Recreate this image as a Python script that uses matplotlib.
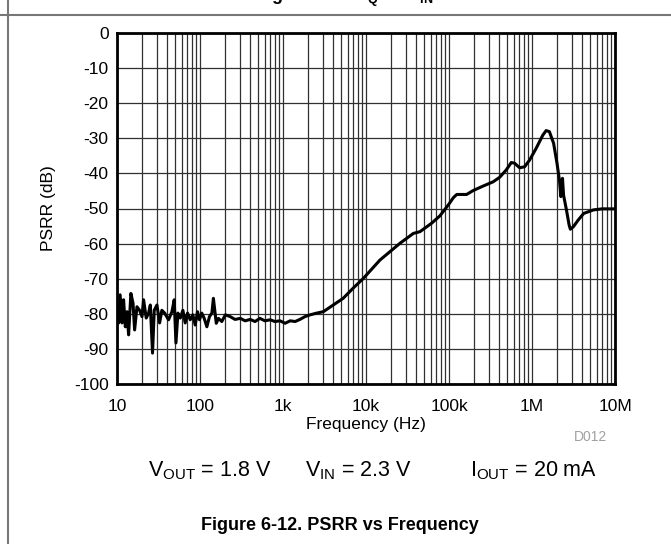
import numpy as np
import matplotlib
matplotlib.use("Agg")
import matplotlib.pyplot as plt
from matplotlib.lines import Line2D

plt.rcParams['font.family'] = ['Liberation Sans', 'DejaVu Sans']
plt.rcParams['mathtext.fontset'] = 'custom'
plt.rcParams['mathtext.rm'] = 'Liberation Sans'

# PSRR curve (Hz, dB)
freq = [10, 10.5, 10.9, 11.5, 12.0, 12.6, 13.2, 13.8, 14.7, 15.6, 16.3, 17.4, 18.7, 20.0,
        20.9, 22.5, 24.0, 25.2, 26.8, 28.1, 30.3, 32.6, 34.7, 37.5, 41.8, 45.9, 48.9, 51.3,
        54.2, 57.9, 62.2, 66.3, 70.8, 76.2, 82.0, 87.5, 93.3, 98.6, 105, 112, 121, 130, 139,
        145, 157, 167, 183, 202, 231, 264, 306, 350, 402, 460, 527, 605, 700, 800, 920,
        1060, 1220, 1400, 1600, 1840, 2120, 2550, 3060, 5300, 7000, 9300, 14700, 25700,
        37200, 44700, 61700, 77600, 98000, 113e3, 124e3, 143e3, 163e3, 195e3, 258e3, 340e3,
        408e3, 490e3, 563e3, 617e3, 710e3, 815e3, 935e3, 1.12e6, 1.35e6, 1.48e6, 1.62e6,
        1.82e6, 2.0e6, 2.14e6, 2.23e6, 2.33e6, 2.4e6, 2.6e6, 2.8e6, 2.9e6, 3.15e6, 3.6e6,
        4.2e6, 5.5e6, 7.0e6, 10e6]
psrr = [-77.0, -82.6, -74.6, -82.6, -76.0, -83.7, -79.4, -86.0, -74.2, -77.0, -84.6, -78.0,
        -79.0, -80.8, -76.0, -81.2, -79.8, -77.5, -91.2, -79.0, -77.5, -82.6, -79.0, -79.8,
        -81.7, -79.4, -76.0, -88.3, -79.8, -81.2, -79.0, -82.6, -79.8, -81.7, -80.3, -83.2,
        -79.4, -81.7, -79.8, -81.2, -83.7, -80.8, -79.8, -75.6, -82.7, -81.3, -82.2, -80.3,
        -80.8, -81.6, -81.3, -82.0, -81.6, -82.2, -81.3, -82.0, -81.7, -82.2, -82.0, -82.7,
        -82.0, -82.2, -81.6, -80.8, -80.3, -79.8, -79.4, -75.6, -72.7, -69.9, -64.7, -59.9,
        -57.1, -56.6, -54.2, -52.1, -49.0, -46.9, -46.0, -46.0, -46.0, -44.9, -43.6, -42.4,
        -41.1, -39.0, -36.9, -37.1, -38.4, -38.1, -36.2, -32.9, -29.1, -27.8, -28.1, -31.4,
        -37.1, -41.9, -46.6, -41.4, -46.2, -50.4, -54.7, -55.9, -55.2, -53.3, -51.4, -50.4,
        -50.1, -50.1]

x_ticks = [10, 100, 1e3, 1e4, 1e5, 1e6, 1e7]
x_labels = ['10', '100', '1k', '10k', '100k', '1M', '10M']
y_ticks = list(range(0, -101, -10))

fig = plt.figure(figsize=(6.71, 5.44), dpi=100)
ax = fig.add_axes([117 / 671, 1 - 384 / 544, (615 - 117) / 671, (384 - 33) / 544])

ax.semilogx(freq, psrr, color='black', lw=2.2, zorder=3)
ax.set_xlim(10, 1e7)
ax.set_ylim(-100, 0)
ax.set_xticks(x_ticks)
ax.set_xticklabels(x_labels)
ax.set_yticks(y_ticks)
ax.set_yticklabels([str(v) for v in y_ticks])
ax.grid(True, which='both', axis='x', color='#303030', lw=0.9)
ax.grid(True, which='major', axis='y', color='#303030', lw=0.9)
ax.tick_params(which='both', length=0, labelsize=12.5)
ax.tick_params(axis='x', pad=11)
ax.tick_params(axis='y', pad=6)
for s in ax.spines.values():
    s.set_linewidth(2)
ax.set_xlabel('Frequency (Hz)', fontsize=12.5, labelpad=2)
ax.set_ylabel('PSRR (dB)', fontsize=12.5, labelpad=13)

fig.text(607 / 671, 1 - 437 / 544, 'D012', color='#a0a0a0', fontsize=10, ha='right', va='center')

fig.text(148 / 671, 1 - 471 / 544, r'V$_{\mathregular{OUT}}$ = 1.8 V', fontsize=15.5, va='center')
fig.text(305 / 671, 1 - 471 / 544, r'V$_{\mathregular{IN}}$ = 2.3 V', fontsize=15.5, va='center')
fig.text(470 / 671, 1 - 471 / 544, r'I$_{\mathregular{OUT}}$ = 20 mA', fontsize=15.5, va='center')

fig.text(340 / 671, 1 - 525 / 544, 'Figure 6-12. PSRR vs Frequency', fontsize=13,
         fontweight='bold', ha='center', va='center')

# cropped caption of the previous figure at the very top
fig.text(345 / 671, 1 + 3 / 544, r'Figure 6-11. I$_{\mathregular{Q}}$ vs V$_{\mathregular{IN}}$',
         fontsize=13, fontweight='bold', ha='center', va='center')

# page border lines
fig.add_artist(Line2D([0, 1], [1 - 15 / 544, 1 - 15 / 544], color='#777777', lw=1.5))
fig.add_artist(Line2D([8 / 671, 8 / 671], [0, 1], color='#777777', lw=1.5))

fig.savefig('out.png', dpi=100)
